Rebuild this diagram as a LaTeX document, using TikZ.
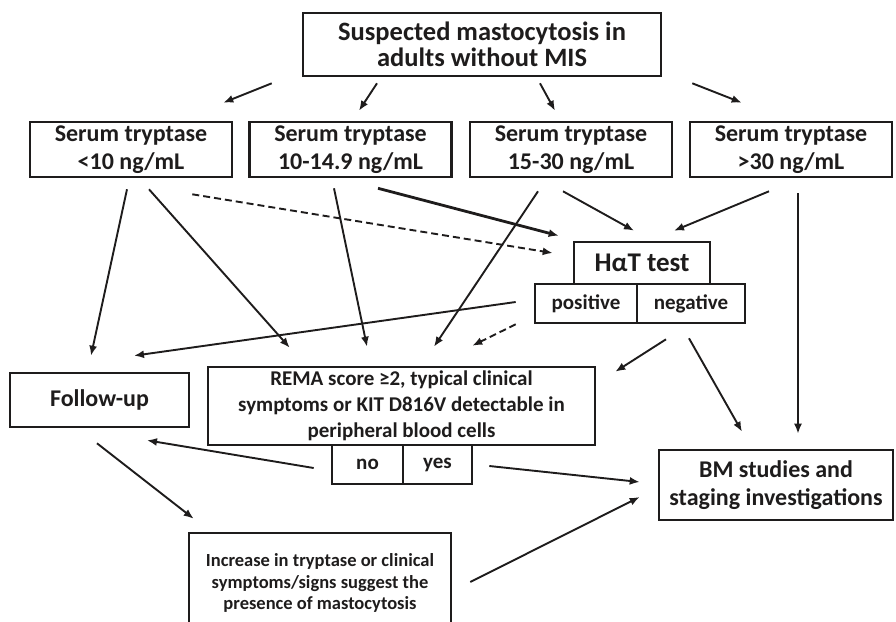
\documentclass[tikz,border=0pt]{standalone}
\usepackage{fontspec}
\setmainfont{Carlito}
\usetikzlibrary{arrows.meta,calc}
\definecolor{inkcolor}{RGB}{30,28,28}

\begin{document}
\begin{tikzpicture}[yscale=-1
,bstyle/.style={draw=inkcolor,line width=2.6pt,inner sep=0pt,align=center,text=inkcolor}
,sstyle/.style={bstyle,minimum width=202pt,minimum height=55pt,font=\fontsize{24pt}{28.5pt}\selectfont\bfseries}
,astyle/.style={draw=inkcolor,line width=1.9pt,-{Latex[length=10pt,width=8pt]}}
,dstyle/.style={astyle,dash pattern=on 7pt off 4pt}
,tstyle/.style={astyle,line width=2.8pt}
]
\useasboundingbox (0pt,0pt) rectangle (896pt,621pt);
\node[bstyle,minimum width=358pt,minimum height=63pt,font=\fontsize{26.5pt}{26pt}\selectfont\bfseries] (top) at (482pt,44.5pt) {Suspected mastocytosis in\\adults without MIS};
\node[sstyle] (s1) at (131pt,149.5pt) {Serum tryptase\\<10 ng/mL};
\node[sstyle] (s2) at (350.5pt,149.5pt) {Serum tryptase\\10-14.9 ng/mL};
\node[sstyle] (s3) at (571pt,149.5pt) {Serum tryptase\\15-30 ng/mL};
\node[sstyle] (s4) at (791pt,149.5pt) {Serum tryptase\\>30 ng/mL};
\node[bstyle,minimum width=136pt,minimum height=42pt,font=\fontsize{27pt}{30pt}\selectfont\bfseries] (hat) at (642pt,263pt) {HαT test};
\node[bstyle,minimum width=102pt,minimum height=39pt,font=\fontsize{21pt}{24pt}\selectfont\bfseries] (pos) at (586pt,303.5pt) {positive};
\node[bstyle,minimum width=108pt,minimum height=39pt,font=\fontsize{21pt}{24pt}\selectfont\bfseries] (neg) at (691pt,303.5pt) {negative};
\node[bstyle,minimum width=179pt,minimum height=54pt,font=\fontsize{24pt}{28pt}\selectfont\bfseries] (fu) at (99.5pt,400pt) {Follow-up};
\node[bstyle,minimum width=387pt,minimum height=78pt,font=\fontsize{21pt}{26pt}\selectfont\bfseries] (rema) at (401.5pt,406pt) {REMA score ≥2, typical clinical\\symptoms or KIT D816V detectable in\\peripheral blood cells};
\node[bstyle,minimum width=71pt,minimum height=39pt,font=\fontsize{21pt}{24pt}\selectfont\bfseries] (no) at (367.5pt,464.5pt) {no};
\node[bstyle,minimum width=69pt,minimum height=39pt,font=\fontsize{21pt}{24pt}\selectfont\bfseries] (yes) at (437.5pt,464.5pt) {yes};
\node[bstyle,minimum width=234pt,minimum height=70pt,font=\fontsize{24pt}{28pt}\selectfont\bfseries] (bm) at (776pt,485pt) {BM studies and\\staging investigations};
\node[bstyle,minimum width=262pt,minimum height=100pt,font=\fontsize{18.5pt}{21.5pt}\selectfont\bfseries] (inc) at (320pt,583pt) {Increase in tryptase or clinical\\symptoms/signs suggest the\\presence of mastocytosis};
\draw[astyle] ($(top.south west)+(-30pt,6pt)$) -- ($(s1.north east)+(-10pt,-18pt)$);
\draw[astyle] ($(top.south)+(-105pt,6pt)$) -- ($(s2.north)+(8.5pt,-10pt)$);
\draw[astyle] ($(top.south)+(58pt,6pt)$) -- ($(s3.north)+(-16pt,-10pt)$);
\draw[astyle] ($(top.south east)+(30pt,6pt)$) -- ($(s4.north west)+(53pt,-18pt)$);
\draw[astyle] ($(s1.south)+(-4pt,11pt)$) -- ($(fu.north)+(-8.5pt,-16pt)$);
\draw[astyle] ($(s1.south)+(18pt,11pt)$) -- ($(rema.north west)+(83pt,-18pt)$);
\draw[dstyle] ($(s1.south east)+(-41pt,16pt)$) -- ($(hat.west)+(-20pt,-10pt)$);
\draw[astyle] ($(s2.south)+(-16.5pt,10pt)$) -- ($(rema.north)+(-34.5pt,-19pt)$);
\draw[tstyle] ($(s2.south)+(27.5pt,10pt)$) -- ($(hat.north west)+(-14pt,-5pt)$);
\draw[astyle] ($(s3.south)+(-33pt,13pt)$) -- ($(rema.north)+(32.5pt,-19pt)$);
\draw[astyle] ($(s3.south)+(-8pt,13pt)$) -- ($(hat.north)+(-8pt,-10pt)$);
\draw[astyle] ($(s4.south)+(-22pt,13pt)$) -- ($(hat.north)+(32pt,-10pt)$);
\draw[astyle] ($(s4.south)+(7pt,15pt)$) -- ($(bm.north)+(22pt,-15pt)$);
\draw[astyle] ($(pos.west)+(-18pt,-1.5pt)$) -- ($(fu.north)+(34.5pt,-16pt)$);
\draw[dstyle] ($(pos.south west)+(-18pt,0pt)$) -- ($(rema.north east)+(-124pt,-20pt)$);
\draw[astyle] ($(neg.south)+(-25pt,15pt)$) -- ($(rema.north east)+(19pt,6pt)$);
\draw[astyle] ($(neg.south)+(-2pt,14pt)$) -- ($(bm.north)+(-34pt,-17pt)$);
\draw[astyle] ($(no.west)+(-17pt,3.5pt)$) -- ($(fu.south)+(47.5pt,12pt)$);
\draw[astyle] ($(yes.east)+(16pt,1.5pt)$) -- ($(bm.west)+(-18pt,-3pt)$);
\draw[astyle] ($(fu.south)+(-2.5pt,15pt)$) -- ($(inc.north west)+(6pt,-13pt)$);
\draw[astyle] ($(inc.east)+(18pt,-1pt)$) -- ($(bm.west)+(-18pt,12pt)$);
\end{tikzpicture}
\end{document}
